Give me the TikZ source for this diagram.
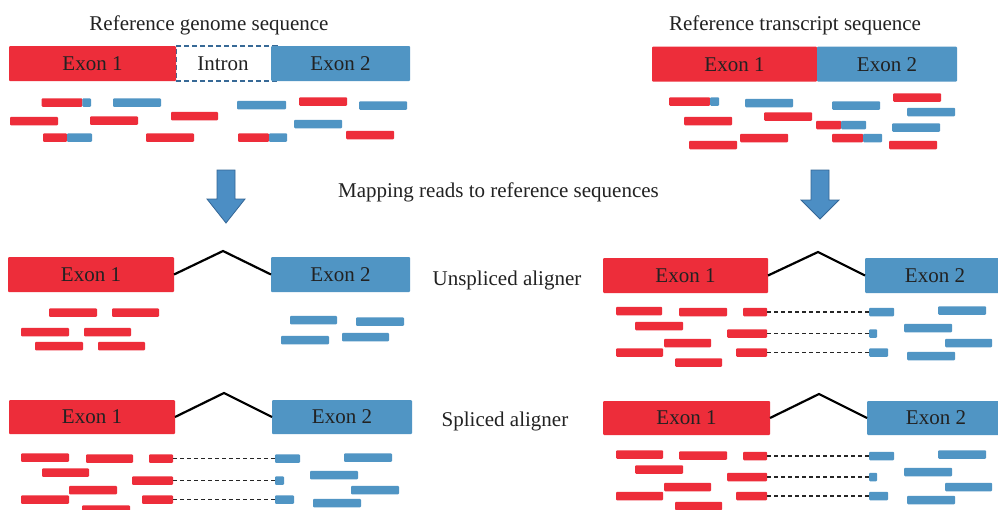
\documentclass[tikz,border=0pt]{standalone}
\usepackage{fontspec}
\setmainfont{Liberation Serif}
\definecolor{exred}{RGB}{237,45,58}
\definecolor{exblue}{RGB}{80,149,196}
\definecolor{dashblue}{RGB}{55,105,150}
\definecolor{arrblue}{RGB}{76,142,196}
\definecolor{arrdark}{RGB}{52,102,150}
\definecolor{txt}{RGB}{34,34,34}
\tikzset{
  read/.style={inner sep=0pt, outer sep=0pt, minimum height=8.5pt, rounded corners=1pt, draw=none, anchor=west},
  exon/.style={inner sep=0pt, outer sep=0pt, rounded corners=1pt, text=txt, font=\rmfamily\fontsize{21}{25}\selectfont},
  lab/.style={text=txt, font=\rmfamily\fontsize{21}{25}\selectfont, anchor=base, inner sep=0pt},
  elbow/.style={line width=2.2pt, black},
  dconn/.style={line width=1.2pt, black!85, dash pattern=on 4pt off 3pt},
  intronbox/.style={draw=dashblue, line width=1.4pt, dash pattern=on 5pt off 3pt, inner sep=0pt, outer sep=0pt, text=txt, font=\rmfamily\fontsize{21}{25}\selectfont},
  bigarrow/.style={fill=arrblue, draw=arrdark, line width=0.8pt, line join=miter}
}
\newcommand\rd[5]{\node[read,fill=#1,minimum width={(#4-#3)*1pt}] (#2) at (#3,#5) {};}
\newcommand\ex[7]{\node[exon,fill=#1,minimum width={(#4-#3)*1pt},minimum height={(#6-#5)*1pt}] (#2) at ({(#3+#4)/2},{(#5+#6)/2}) {#7};}
\begin{document}
\begin{tikzpicture}[x=1pt,y=-1pt]
\useasboundingbox[fill=white] (0,0) rectangle (998,509);

% headings
\node[lab] (h1) at (209,30) {Reference genome sequence};
\node[lab] (h2) at (795,30) {Reference transcript sequence};
\node[lab] (h3) at (498.5,197) {Mapping reads to reference sequences};
\node[lab] (h4) at (507,285) {Unspliced aligner};
\node[lab] (h5) at (505,426) {Spliced aligner};

% ---------- top left: genome ----------
\node[intronbox, minimum width=101pt, minimum height=35pt] (intr) at (226.5,63.5) {\hspace*{-7pt}Intron};
\ex{exred}{g1}{9}{176}{46}{81}{Exon 1}
\ex{exblue}{g2}{271}{410}{46}{81}{Exon 2}

\rd{exred}{tl1a}{41.7}{82.3}{102.5}
\rd{exblue}{tl1b}{82.3}{91}{102.5}
\rd{exblue}{tl2}{113}{161}{102.5}
\rd{exblue}{tl3}{237}{286}{105}
\rd{exred}{tl4}{299}{347}{101.5}
\rd{exblue}{tl5}{359}{407}{105.5}
\rd{exred}{tl6}{10}{58}{121}
\rd{exred}{tl7}{90}{138}{120.5}
\rd{exred}{tl8}{171}{218}{116}
\rd{exblue}{tl9}{294}{342}{124}
\rd{exred}{tl10a}{43}{67}{137.5}
\rd{exblue}{tl10b}{67}{92}{137.5}
\rd{exred}{tl11}{146}{194}{137.5}
\rd{exred}{tl12a}{238}{269}{137.5}
\rd{exblue}{tl12b}{269}{287}{137.5}
\rd{exred}{tl13}{346}{394}{135}

% ---------- top right: transcript ----------
\ex{exred}{t1}{652}{817}{46.7}{81.7}{Exon 1}
\ex{exblue}{t2}{817}{957}{46.7}{81.7}{Exon 2}

\rd{exred}{tr1a}{669}{710}{101.5}
\rd{exblue}{tr1b}{710}{719}{101.5}
\rd{exblue}{tr2}{745}{793}{103}
\rd{exblue}{tr3}{832}{880}{105.5}
\rd{exred}{tr4}{893}{941}{97.5}
\rd{exred}{tr5}{684}{732}{121}
\rd{exred}{tr6}{764}{812}{116.5}
\rd{exred}{tr7a}{816}{841}{125}
\rd{exblue}{tr7b}{841}{866}{125}
\rd{exblue}{tr8}{907}{955}{112}
\rd{exblue}{tr9}{892}{940}{127.5}
\rd{exred}{tr10}{689}{737}{145}
\rd{exred}{tr11}{740}{788}{138}
\rd{exred}{tr12a}{832}{863}{138}
\rd{exblue}{tr12b}{863}{882}{138}
\rd{exred}{tr13}{889}{937}{145}

% ---------- arrows ----------
\path[bigarrow] (217,170) -- (235,170) -- (235,199) -- (245,199) -- (226,223) -- (207,199) -- (217,199) -- cycle;
\path[bigarrow] (811,170) -- (829,170) -- (829,200) -- (839,200) -- (820,219) -- (801,200) -- (811,200) -- cycle;

% ---------- middle left: unspliced on genome ----------
\ex{exred}{ml1}{8}{174}{257}{292}{Exon 1}
\ex{exblue}{ml2}{271}{410}{257}{292}{Exon 2}
\coordinate (mla) at (223,251);
\draw[elbow] (ml1.east) -- (mla) -- (ml2.west);

\rd{exred}{mlr1}{49}{97}{312.5}
\rd{exred}{mlr2}{112}{159}{312.5}
\rd{exred}{mlr3}{21}{69}{332}
\rd{exred}{mlr4}{84}{131}{332}
\rd{exred}{mlr5}{35}{83}{346}
\rd{exred}{mlr6}{98}{145}{346}
\rd{exblue}{mlb1}{290}{337}{320}
\rd{exblue}{mlb2}{356}{404}{321.5}
\rd{exblue}{mlb3}{281}{329}{340}
\rd{exblue}{mlb4}{342}{389}{337}

% ---------- middle right: unspliced on transcript ----------
\ex{exred}{mr1}{603}{768}{258}{293}{Exon 1}
\ex{exblue}{mr2}{865}{1005}{258}{293}{Exon 2}
\coordinate (mra) at (818,252);
\draw[elbow] (mr1.east) -- (mra) -- (mr2.west);

\rd{exred}{mrr1}{616}{662}{311}
\rd{exred}{mrr2}{679}{727}{312}
\rd{exred}{mrr3}{743}{767}{312}
\rd{exblue}{mrb3}{869}{894}{312}
\rd{exblue}{mrb1}{938}{986}{310.5}
\rd{exred}{mrr4}{635}{683}{326}
\rd{exred}{mrr7}{727}{767}{333.5}
\rd{exblue}{mrb7}{869}{877}{333.5}
\rd{exblue}{mrb2}{904}{952}{328}
\rd{exred}{mrr5}{664}{711}{343}
\rd{exred}{mrr6}{616}{663}{352.5}
\rd{exred}{mrr12}{736}{767}{352.5}
\rd{exblue}{mrb12}{869}{888}{352.5}
\rd{exblue}{mrb4}{945}{992}{343}
\rd{exred}{mrr8}{675}{722}{362.5}
\rd{exblue}{mrb5}{907}{955}{356}
\draw[dconn] (mrr3.east) -- (mrb3.west);
\draw[dconn] (mrr7.east) -- (mrb7.west);
\draw[dconn] (mrr12.east) -- (mrb12.west);

% ---------- bottom left: spliced on genome ----------
\ex{exred}{bl1}{9}{175}{400}{434}{Exon 1}
\ex{exblue}{bl2}{272}{412}{400}{434}{Exon 2}
\coordinate (bla) at (224,393);
\draw[elbow] (bl1.east) -- (bla) -- (bl2.west);

\rd{exred}{blr1}{21}{69}{457.5}
\rd{exred}{blr2}{86}{133}{458.5}
\rd{exred}{blr3}{149}{173}{458.5}
\rd{exblue}{blb3}{275}{300}{458.5}
\rd{exblue}{blb1}{344}{392}{457.5}
\rd{exred}{blr4}{42}{89}{472.5}
\rd{exred}{blr7}{132}{173}{480.5}
\rd{exblue}{blb7}{275}{284}{480.5}
\rd{exblue}{blb2}{310}{358}{475}
\rd{exred}{blr5}{69}{117}{490}
\rd{exred}{blr6}{21}{69}{499.5}
\rd{exred}{blr12}{142}{173}{499.5}
\rd{exblue}{blb12}{275}{294}{499.5}
\rd{exblue}{blb4}{351}{399}{490}
\rd{exred}{blr8}{82}{130}{509.5}
\rd{exblue}{blb5}{313}{361}{503}
\draw[dconn] (blr3.east) -- (blb3.west);
\draw[dconn] (blr7.east) -- (blb7.west);
\draw[dconn] (blr12.east) -- (blb12.west);

% ---------- bottom right: spliced on transcript ----------
\ex{exred}{br1}{603}{770}{401}{435}{Exon 1}
\ex{exblue}{br2}{867}{1005}{401}{435}{Exon 2}
\coordinate (bra) at (819,394);
\draw[elbow] (br1.east) -- (bra) -- (br2.west);

\rd{exred}{brr1}{616}{663}{454.5}
\rd{exred}{brr2}{679}{727}{455.5}
\rd{exred}{brr3}{743}{767}{456}
\rd{exblue}{brb3}{869}{894}{456}
\rd{exblue}{brb1}{938}{986}{454.5}
\rd{exred}{brr4}{635}{683}{469.5}
\rd{exred}{brr7}{727}{767}{477}
\rd{exblue}{brb7}{869}{877}{477}
\rd{exblue}{brb2}{904}{952}{472}
\rd{exred}{brr5}{664}{711}{487}
\rd{exred}{brr6}{616}{663}{496}
\rd{exred}{brr12}{736}{767}{496}
\rd{exblue}{brb12}{869}{888}{496}
\rd{exblue}{brb4}{945}{992}{487}
\rd{exred}{brr8}{675}{722}{506}
\rd{exblue}{brb5}{907}{955}{500}
\draw[dconn] (brr3.east) -- (brb3.west);
\draw[dconn] (brr7.east) -- (brb7.west);
\draw[dconn] (brr12.east) -- (brb12.west);
\end{tikzpicture}
\end{document}
